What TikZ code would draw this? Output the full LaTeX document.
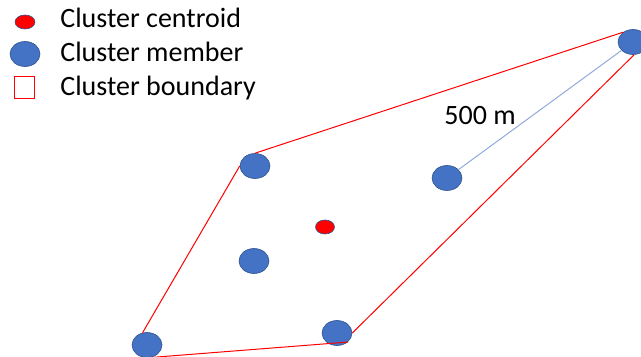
\documentclass[tikz,border=0pt]{standalone}
\usepackage{fontspec}
\setmainfont{Carlito}
\usetikzlibrary{shapes.geometric, positioning}
\definecolor{clblue}{RGB}{68, 114, 196}
\definecolor{clborder}{RGB}{47, 82, 143}
\definecolor{clred}{RGB}{255, 0, 0}
\definecolor{cllink}{RGB}{143, 170, 220}

\begin{document}
\begin{tikzpicture}[
    x=0.5pt, y=-0.5pt,
    member/.style={
        ellipse,
        fill=clblue,
        draw=clborder,
        line width=0.3pt,
        minimum width=15pt,
        minimum height=12.5pt,
        inner sep=0pt
    },
    centroid/.style={
        ellipse,
        fill=clred,
        draw=clborder,
        line width=0.3pt,
        minimum width=9.5pt,
        minimum height=7pt,
        inner sep=0pt
    },
    boundary/.style={draw=clred, line width=0.5pt},
    link/.style={draw=cllink, line width=0.5pt},
    keytext/.style={anchor=base west, font=\fontsize{14}{17}\selectfont, inner sep=0pt}
]
\useasboundingbox (0,0) rectangle (641,357);
\clip (0,0) rectangle (641,357);

% Legend
\node[centroid, minimum width=10pt] (keycentroid) at (25,22) {};
\node[member] (keymember) at (25,54) {};
\node[draw=clred, line width=0.5pt, minimum width=10pt, minimum height=11pt, inner sep=0pt] (keyboundary) at (24,88) {};
\node[keytext] (txtcentroid) at (60,28) {Cluster centroid};
\node[keytext] (txtmember) at (60,62) {Cluster member};
\node[keytext] (txtboundary) at (60,96) {Cluster boundary};

% Cluster members and centroid
\node[member] (far) at (633,42) {};
\node[member] (topleft) at (255,166) {};
\node[member] (near) at (447,178) {};
\node[member] (midleft) at (254,261) {};
\node[member] (botright) at (337,333) {};
\node[member] (botleft) at (147,345) {};
\node[centroid] (center) at (325,227) {};

% Boundary of the cluster
\draw[boundary] (topleft.north) -- (far.135);
\draw[boundary] (far.275) -- (botright.east);
\draw[boundary] (botright.-40) -- (botleft.south);
\draw[boundary] (botleft.110) -- (topleft.west);

% Distance to the farthest member
\draw[link] (near) -- (far);
\node[anchor=base, font=\fontsize{14}{17}\selectfont, inner sep=0pt] (dist) at (480,125) {500 m};

\end{tikzpicture}
\end{document}
